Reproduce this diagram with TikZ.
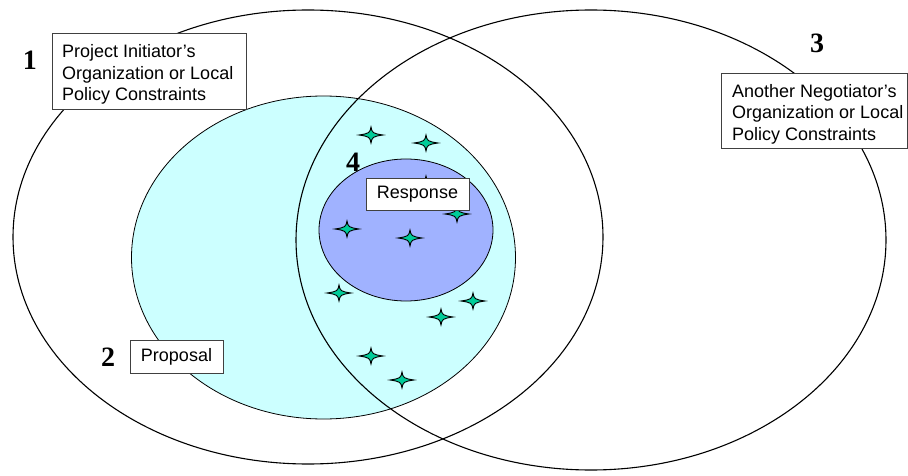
\documentclass[tikz,border=0pt]{standalone}
\usepackage{fontspec}
\setmainfont{Liberation Sans}
\newfontfamily\numfont{Liberation Serif}
\definecolor{proposalfill}{RGB}{204,255,255}
\definecolor{responsefill}{RGB}{160,178,255}
\definecolor{sparkgreen}{RGB}{0,204,153}
\begin{document}
\begin{tikzpicture}[x=1pt,y=-1pt,
  region/.style={draw=black,line width=1.1pt},
  labelbox/.style={draw=black!75,line width=0.8pt,fill=white,inner sep=0pt},
  boxtext/.style={inner sep=0pt,align=left,font=\fontsize{18}{21.5}\selectfont},
  tag/.style={inner sep=0pt,font=\numfont\bfseries\fontsize{28}{28}\selectfont},
  spark/.pic={\path[draw=black,line width=0.9pt,fill=sparkgreen]
     (-12,0) .. controls (-2,-1.5) and (-1,-2) .. (0,-8)
             .. controls (1,-2) and (2,-1.5) .. (12,0)
             .. controls (2,1.5) and (1,2) .. (0,8)
             .. controls (-1,2) and (-2,1.5) .. (-12,0) -- cycle;}
]
\useasboundingbox (0,0) rectangle (908,476);

% the two organizations' policy regions and the nested proposal/response sets
\draw[region] (308,237) ellipse [x radius=295, y radius=227];
\draw[region,line width=0.8pt,fill=proposalfill] (323.5,257.5) ellipse [x radius=192, y radius=161.5];
\draw[region,line width=0.8pt,fill=responsefill] (406,230) ellipse [x radius=87, y radius=71];
\draw[region] (591,240) ellipse [x radius=295, y radius=230];

% candidate agreement points
\pic (s1) at (371,135) {spark};
\pic (s2) at (426,143) {spark};
\pic (s3) at (426,184) {spark};
\pic (s4) at (457,214) {spark};
\pic (s5) at (347,229) {spark};
\pic (s6) at (410,238) {spark};
\pic (s7) at (339,293) {spark};
\pic (s8) at (473,301) {spark};
\pic (s9) at (441,317) {spark};
\pic (s10) at (371,356) {spark};
\pic (s11) at (402,380) {spark};

% labels
\node[labelbox,anchor=north west,minimum width=194pt,minimum height=76pt] (box1) at (52,33) {};
\node[boxtext,anchor=west] (box1text) at ([xshift=10pt,yshift=-3pt]box1.west)
  {Project Initiator’s\\Organization or Local\\Policy Constraints};

\node[labelbox,anchor=north west,minimum width=186pt,minimum height=75pt] (box3) at (721,73) {};
\node[boxtext,anchor=west] (box3text) at ([xshift=11pt,yshift=-3pt]box3.west)
  {Another Negotiator’s\\Organization or Local\\Policy Constraints};

\node[labelbox,minimum width=93pt,minimum height=33pt,font=\fontsize{18}{21.5}\selectfont] (proposal) at (176.5,356.5) {Proposal};
\node[labelbox,minimum width=103pt,minimum height=32pt,font=\fontsize{18}{21.5}\selectfont] (response) at (417.5,194) {Response};

\node[tag] (n1) at (30,60) {1};
\node[tag] (n2) at (108,357) {2};
\node[tag] (n3) at (817,43) {3};
\node[tag] (n4) at (353,162) {4};
\end{tikzpicture}
\end{document}
